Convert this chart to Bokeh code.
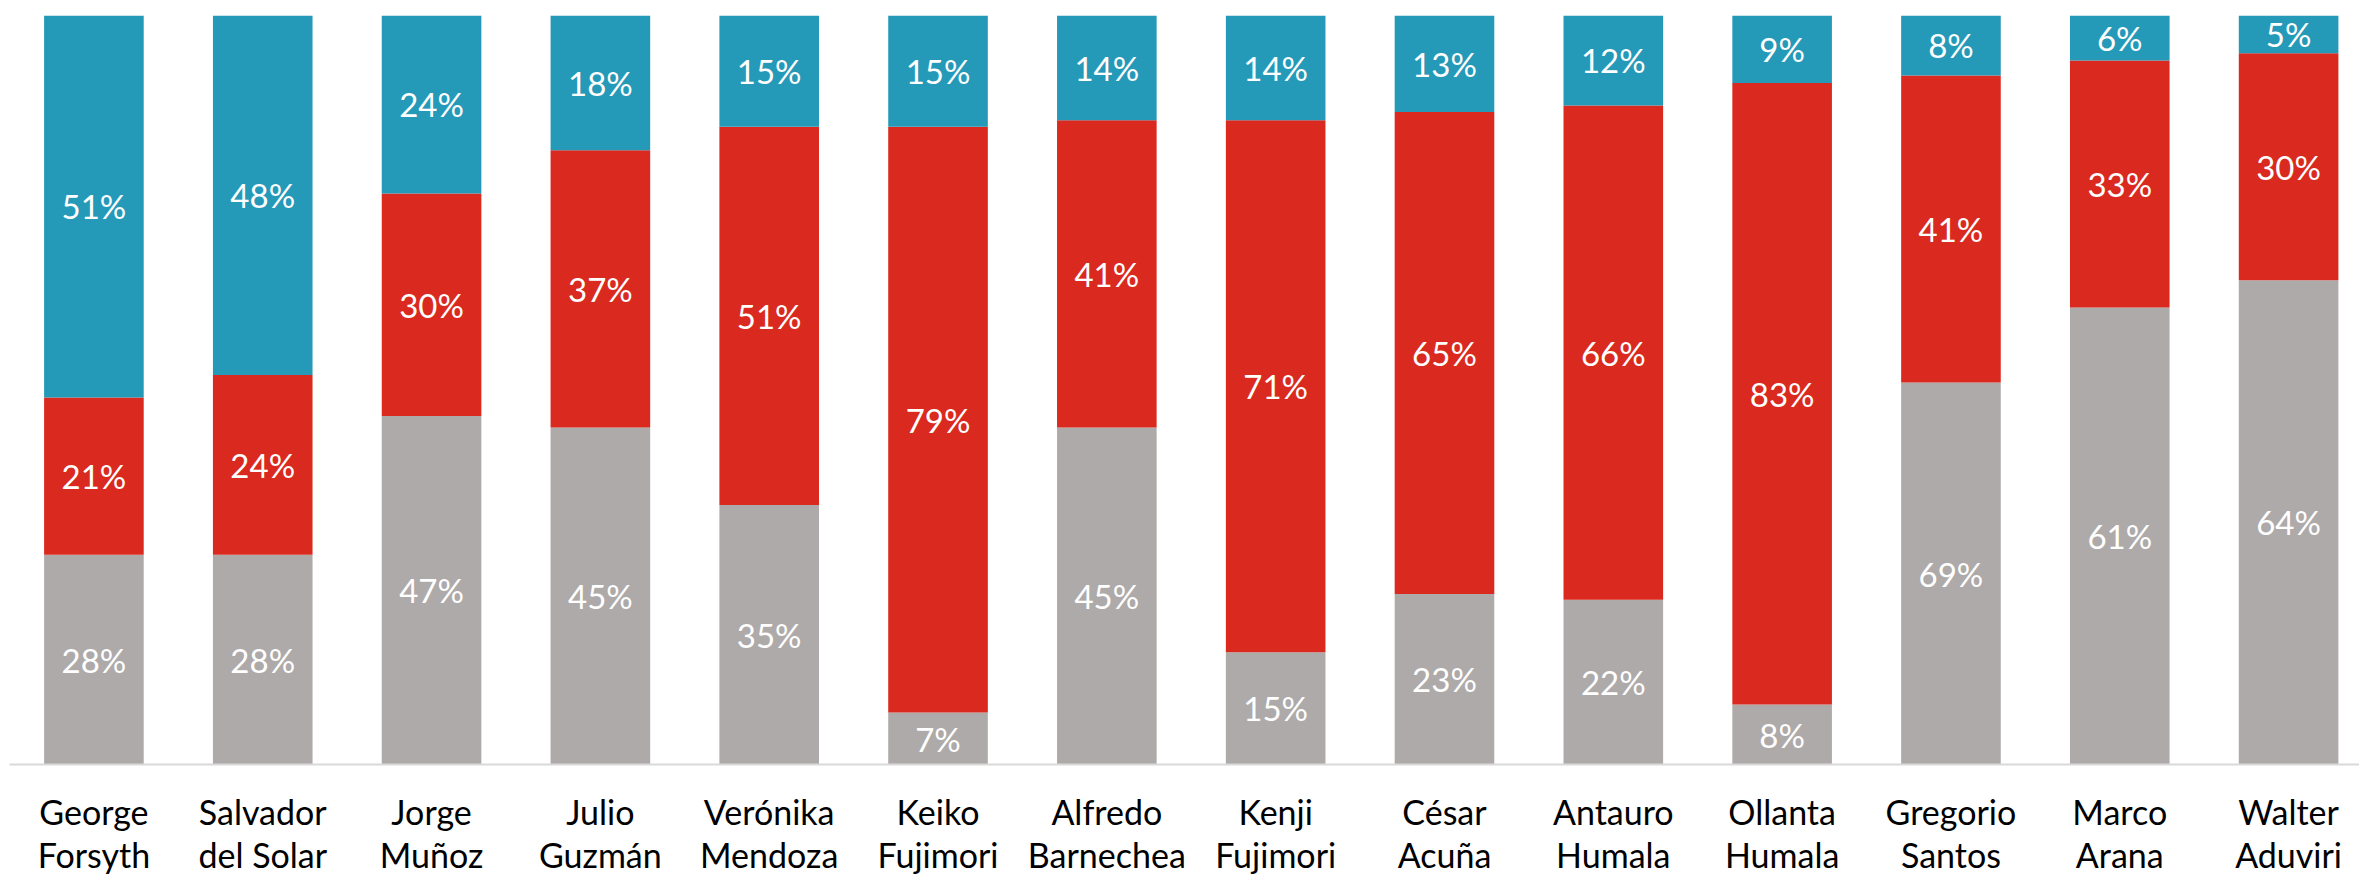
import numpy as np
from bokeh.plotting import figure
from bokeh.models import ColumnDataSource, Range1d, FixedTicker
from bokeh.embed import file_html
from bokeh.resources import INLINE
from bokeh.core.properties import value

first_names = ["George", "Salvador", "Jorge", "Julio", "Verónika", "Keiko", "Alfredo",
               "Kenji", "César", "Antauro", "Ollanta", "Gregorio", "Marco", "Walter"]
last_names = ["Forsyth", "del Solar", "Muñoz", "Guzmán", "Mendoza", "Fujimori", "Barnechea",
              "Fujimori", "Acuña", "Humala", "Humala", "Santos", "Arana", "Aduviri"]

gray = [28, 28, 47, 45, 35, 7, 45, 15, 23, 22, 8, 51, 61, 64]
red = [21, 24, 30, 37, 51, 79, 41, 71, 65, 66, 83, 41, 33, 30]
blue = [51, 48, 24, 18, 15, 15, 14, 14, 13, 12, 9, 8, 6, 5]
gray_labels = ["28%", "28%", "47%", "45%", "35%", "7%", "45%", "15%", "23%", "22%", "8%",
               "69%", "61%", "64%"]

C_GRAY = "#AEAAA9"
C_RED = "#DA291E"
C_BLUE = "#2599B8"

x = np.arange(len(first_names))
g = np.array(gray, dtype=float)
r = np.array(red, dtype=float)
b = np.array(blue, dtype=float)
tot = g + r + b
g_top = g / tot * 100
r_top = (g + r) / tot * 100
b_top = np.full(len(x), 100.0)

src = ColumnDataSource(dict(
    x=x, g_top=g_top, r_top=r_top, b_top=b_top, zero=np.zeros(len(x)),
    g_mid=g_top / 2, r_mid=(g_top + r_top) / 2, b_mid=(r_top + b_top) / 2,
    g_lab=gray_labels, r_lab=[f"{v}%" for v in red], b_lab=[f"{v}%" for v in blue],
))

p = figure(width=2359, height=878, output_backend="svg", toolbar_location=None,
           x_range=Range1d(-0.5, 13.42), y_range=Range1d(0, 100),
           y_axis_location=None, min_border_left=9, min_border_right=0,
           min_border_top=15, min_border_bottom=0)
p.outline_line_color = None
p.xgrid.visible = False
p.ygrid.visible = False
p.background_fill_color = "white"
p.border_fill_color = "white"

W = 0.59
p.vbar(x="x", bottom="zero", top="g_top", width=W, source=src, fill_color=C_GRAY, line_color=None)
p.vbar(x="x", bottom="g_top", top="r_top", width=W, source=src, fill_color=C_RED, line_color=None)
p.vbar(x="x", bottom="r_top", top="b_top", width=W, source=src, fill_color=C_BLUE, line_color=None)

for ycol, tcol in [("g_mid", "g_lab"), ("r_mid", "r_lab"), ("b_mid", "b_lab")]:
    p.text(x="x", y=ycol, text=tcol, source=src, text_color="white",
           text_font=value("Lato"), text_font_size="33px",
           text_align="center", text_baseline="middle")

ax = p.xaxis[0]
ax.ticker = FixedTicker(ticks=list(range(len(first_names))))
ax.major_label_overrides = {int(i): f"{first_names[i]}\n{last_names[i]}" for i in range(len(first_names))}
ax.axis_line_color = "#D9D9D9"
ax.axis_line_width = 2
ax.major_tick_line_color = None
ax.minor_tick_line_color = None
ax.major_label_text_font = "Lato"
ax.major_label_text_font_size = "34px"
ax.major_label_text_color = "black"
ax.major_label_text_line_height = 1.07
ax.major_label_standoff = 20

open("out.html", "w").write(file_html(p, INLINE))
